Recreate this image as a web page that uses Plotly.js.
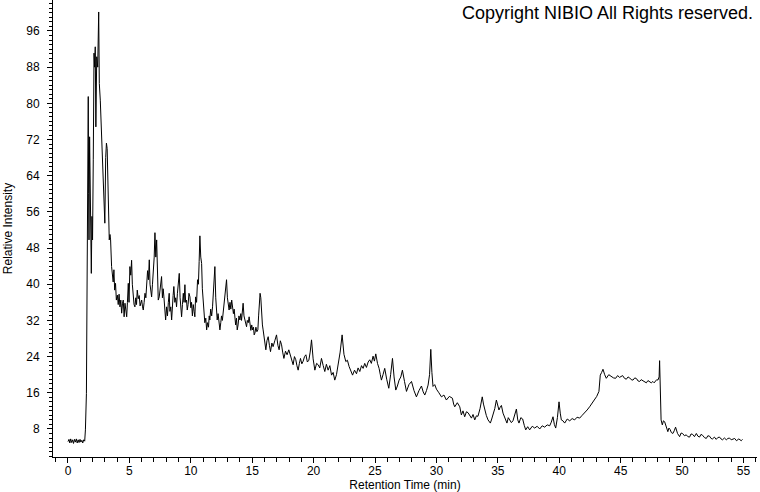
<!DOCTYPE html>
<html>
<head>
<meta charset="utf-8">
<script src="https://cdn.plot.ly/plotly-3.0.1.min.js"></script>
<style>
  html, body { margin: 0; padding: 0; background: #ffffff; }
  #chart { width: 760px; height: 492px; }
</style>
</head>
<body>
<div id="chart"></div>
<script>
// Retention time (min)
const retentionTime = [
  0.00,0.08,0.15,0.22,0.30,0.38,0.45,0.53,0.60,0.68,0.75,0.83,0.90,0.98,1.05,1.13,1.20,1.28,1.36,
  1.42,1.50,1.55,1.60,1.65,1.68,1.71,1.76,1.80,1.85,1.90,1.95,2.00,2.06,2.12,2.17,2.22,2.27,2.34,2.42,
  2.50,2.55,2.63,2.71,2.77,2.82,2.88,2.94,3.00,3.07,3.13,3.19,3.25,3.31,3.36,3.42,3.47,3.55,3.62,3.68,
  3.74,3.80,3.87,3.94,4.02,4.09,4.16,4.23,4.30,4.37,4.44,4.50,4.57,4.64,4.71,4.78,4.84,4.91,4.97,5.04,
  5.11,5.18,5.24,5.31,5.38,5.45,5.52,5.58,5.64,5.72,5.80,5.87,5.94,6.00,6.07,6.13,6.20,6.27,6.34,6.40,
  6.48,6.55,6.62,6.68,6.75,6.81,6.88,6.95,7.02,7.08,7.15,7.22,7.28,7.35,7.43,7.50,7.57,7.62,7.69,7.75,
  7.81,7.88,7.95,8.03,8.10,8.17,8.24,8.30,8.37,8.44,8.50,8.56,8.62,8.70,8.77,8.84,8.91,8.98,9.06,9.13,
  9.19,9.25,9.32,9.39,9.45,9.52,9.58,9.65,9.71,9.78,9.85,9.93,10.00,10.06,10.13,10.20,10.27,10.33,10.39,
  10.47,10.55,10.62,10.68,10.74,10.81,10.88,10.94,11.00,11.07,11.14,11.22,11.29,11.36,11.44,11.50,11.55,
  11.62,11.70,11.77,11.84,11.90,11.96,12.03,12.09,12.15,12.22,12.30,12.37,12.44,12.50,12.57,12.64,12.70,
  12.78,12.85,12.91,12.98,13.05,13.12,13.19,13.26,13.33,13.40,13.47,13.53,13.59,13.65,13.72,13.78,13.85,
  13.92,14.00,14.07,14.13,14.20,14.26,14.33,14.40,14.47,14.54,14.60,14.68,14.75,14.82,14.89,14.96,15.03,
  15.10,15.16,15.22,15.30,15.38,15.46,15.52,15.58,15.64,15.70,15.76,15.83,15.89,16.00,16.11,16.20,16.30,
  16.40,16.49,16.60,16.70,16.84,16.98,17.09,17.19,17.29,17.39,17.48,17.58,17.71,17.84,17.98,18.12,18.22,
  18.33,18.44,18.55,18.64,18.74,18.84,18.93,19.04,19.15,19.26,19.37,19.49,19.61,19.72,19.83,19.96,20.10,
  20.24,20.37,20.50,20.64,20.78,20.91,21.04,21.18,21.32,21.46,21.59,21.72,21.86,21.99,22.16,22.32,22.47,
  22.62,22.75,22.89,23.03,23.17,23.33,23.49,23.62,23.76,23.90,24.03,24.16,24.30,24.44,24.57,24.70,24.84,
  24.95,25.06,25.20,25.33,25.43,25.52,25.65,25.79,25.95,26.12,26.27,26.42,26.55,26.69,26.82,26.96,27.10,
  27.23,27.40,27.56,27.76,27.97,28.17,28.37,28.58,28.78,28.92,29.05,29.19,29.32,29.44,29.54,29.63,29.72,
  29.86,30.00,30.20,30.41,30.61,30.81,31.05,31.30,31.40,31.49,31.70,31.90,32.03,32.16,32.30,32.44,32.57,
  32.71,32.85,32.98,33.12,33.25,33.38,33.55,33.73,33.83,33.93,34.06,34.20,34.39,34.50,34.61,34.75,34.88,
  34.98,35.09,35.19,35.29,35.42,35.56,35.74,35.85,35.96,36.10,36.23,36.37,36.51,36.62,36.72,36.87,37.02,
  37.15,37.27,37.43,37.59,37.80,38.00,38.20,38.41,38.61,38.81,39.02,39.22,39.35,39.49,39.60,39.71,39.85,
  39.98,40.08,40.17,40.30,40.44,40.65,40.85,41.05,41.25,41.45,41.66,41.86,42.07,42.27,42.47,42.68,42.88,
  43.05,43.23,43.34,43.45,43.56,43.70,43.83,44.03,44.24,44.41,44.59,44.75,44.91,45.03,45.16,45.31,45.46,
  45.60,45.73,45.86,46.00,46.15,46.30,46.42,46.54,46.67,46.79,46.94,47.09,47.22,47.36,47.49,47.62,47.73,
  47.84,47.94,48.03,48.13,48.17,48.23,48.29,48.39,48.48,48.58,48.71,48.84,48.93,49.02,49.13,49.25,49.36,
  49.47,49.63,49.80,49.92,50.04,50.19,50.34,50.47,50.61,50.73,50.86,51.01,51.16,51.29,51.42,51.54,51.67,
  51.82,51.97,52.10,52.24,52.36,52.48,52.63,52.78,52.91,53.05,53.17,53.29,53.45,53.60,53.73,53.86,54.00,
  54.13,54.28,54.43,54.62,54.82,54.92
];
// Relative intensity (%)
const relativeIntensity = [
  5.2,5.7,4.9,5.8,5.0,5.6,4.8,5.7,5.1,5.8,4.9,5.6,5.0,5.7,5.1,5.5,4.9,5.6,5.3,
  7.8,15.8,40.0,72.6,81.5,60.0,49.8,72.6,58.6,45.0,42.4,55.0,49.8,67.5,91.1,88.0,92.5,74.8,90.3,88.0,
  100.2,84.4,80.7,74.8,66.8,64.5,61.6,58.6,53.5,68.0,71.2,70.0,62.0,55.7,49.8,51.0,49.8,43.9,42.4,40.5,
  43.2,38.7,40.2,36.5,37.6,35.5,37.8,35.0,36.5,33.6,35.8,36.5,32.8,35.8,34.3,32.8,36.0,40.2,36.0,43.9,
  42.0,45.3,40.0,36.5,35.5,35.0,37.0,35.5,38.7,36.8,37.5,35.2,36.2,36.5,35.0,34.3,36.0,38.0,37.0,39.5,
  43.0,41.0,45.4,40.0,38.5,37.2,40.0,43.0,46.0,51.4,46.0,49.8,43.0,36.5,37.2,38.5,40.0,41.7,37.0,39.0,
  37.2,34.5,32.1,35.0,33.0,36.0,38.0,34.0,35.0,32.1,36.0,37.5,39.5,36.0,37.0,35.0,38.0,40.0,42.4,37.0,
  35.0,32.8,35.5,38.0,36.0,39.9,36.0,36.5,34.3,35.5,38.0,37.2,34.8,36.0,33.0,35.5,34.0,32.8,37.2,
  36.0,41.0,40.0,45.0,50.7,46.0,44.6,39.0,36.5,33.5,31.5,32.5,29.9,31.5,30.5,33.0,32.1,
  34.5,33.0,35.0,38.0,40.0,43.9,37.0,34.0,32.1,33.5,31.0,29.9,31.5,33.0,32.0,33.6,35.5,
  37.0,39.0,41.0,37.0,35.5,34.3,36.0,34.5,36.5,35.0,33.5,34.5,32.1,31.0,32.5,29.9,31.0,
  33.0,32.1,33.5,32.0,34.0,35.8,33.0,32.0,31.0,30.6,32.0,31.5,32.8,31.0,29.8,31.0,29.9,
  30.5,28.8,29.2,30.5,29.5,29.9,33.0,36.0,38.0,37.0,33.0,31.0,29.9,27.0,25.5,27.5,28.4,
  26.5,25.1,27.0,26.2,27.5,28.8,26.5,25.5,27.5,26.6,25.0,23.6,25.2,24.4,25.5,24.0,23.0,
  22.2,24.0,23.3,22.0,21.0,22.5,23.6,22.4,23.0,24.0,24.4,22.8,23.2,25.0,27.7,23.5,21.0,
  22.5,22.2,21.5,23.6,22.0,20.7,22.3,21.0,22.0,19.9,20.5,18.8,20.0,21.8,25.0,28.8,24.5,
  22.9,23.2,21.8,21.0,19.9,21.0,20.2,21.5,20.7,22.0,21.4,22.5,21.6,22.8,23.3,22.5,24.1,
  23.0,24.6,22.5,21.4,20.0,18.8,20.0,21.4,19.0,17.0,20.0,23.6,19.5,16.6,17.5,18.8,19.5,
  21.0,18.5,16.3,17.8,18.5,16.5,15.1,16.5,17.5,16.2,15.5,16.5,17.7,20.0,25.6,20.5,17.4,
  17.8,16.8,16.0,15.1,15.5,14.4,15.2,14.8,13.5,12.9,13.8,12.9,11.1,12.0,10.7,11.8,11.6,
  11.0,10.4,11.2,10.0,10.9,10.8,12.5,15.1,13.5,12.2,11.0,10.0,9.3,10.2,11.1,12.5,14.4,
  13.0,12.2,12.8,13.2,11.5,10.4,9.3,10.5,10.0,9.4,9.8,11.0,12.4,10.0,9.3,10.5,10.2,
  8.8,7.8,8.5,7.8,8.6,8.2,8.6,8.0,8.7,8.4,8.9,8.7,9.5,10.7,9.0,8.2,10.5,
  14.0,11.5,10.0,9.8,9.3,10.2,9.8,10.3,10.0,10.6,10.4,11.0,11.5,12.2,12.9,13.8,14.6,
  15.2,16.3,19.9,20.5,21.2,20.0,19.2,20.0,19.6,19.3,19.2,19.8,19.4,19.7,19.8,19.2,19.0,
  19.5,19.3,18.9,18.8,19.3,19.1,18.6,18.5,18.9,18.7,18.4,18.2,18.7,18.5,18.2,18.5,18.2,
  18.6,18.9,18.8,19.5,23.1,12.2,10.0,8.9,9.8,9.6,8.2,7.4,8.2,7.9,7.2,7.0,7.6,
  8.4,7.0,6.3,7.1,7.0,6.5,6.7,6.3,6.2,6.9,6.8,6.3,7.0,6.4,6.2,6.8,6.6,
  6.1,5.9,6.5,6.4,5.9,5.8,6.2,5.7,6.1,6.2,5.8,5.6,6.0,5.6,5.9,6.0,5.6,
  5.7,5.9,5.4,5.8,5.4,5.7
];

const xTickValues = [0,5,10,15,20,25,30,35,40,45,50,55];
const yTickValues = [8,16,24,32,40,48,56,64,72,80,88,96];

const fontFamily = '"Liberation Sans", Arial, sans-serif';

const trace = {
  x: retentionTime,
  y: relativeIntensity,
  type: 'scatter',
  mode: 'lines',
  line: { color: '#000000', width: 1 },
  hoverinfo: 'x+y'
};

const layout = {
  width: 760,
  height: 492,
  margin: { l: 53, r: 3, t: 0, b: 35, pad: 0 },
  paper_bgcolor: '#ffffff',
  plot_bgcolor: '#ffffff',
  showlegend: false,
  font: { family: fontFamily, size: 12, color: '#000000' },
  xaxis: {
    range: [-1.22, 56.1],
    tickmode: 'array',
    tickvals: xTickValues,
    ticktext: xTickValues.map(String),
    ticks: 'outside',
    ticklen: 5,
    tickwidth: 1,
    tickcolor: '#000000',
    ticklabelstandoff: -2,
    minor: { dtick: 1, tick0: 0, ticks: 'outside', ticklen: 4, tickcolor: '#000000', tickwidth: 1, showgrid: false },
    showline: true,
    linecolor: '#000000',
    linewidth: 1,
    showgrid: false,
    zeroline: false,
    tickfont: { family: fontFamily, size: 12, color: '#000000' },
    title: { text: 'Retention Time (min)', font: { family: fontFamily, size: 12, color: '#000000' }, standoff: 6 }
  },
  yaxis: {
    range: [1.8, 102.85],
    tickmode: 'array',
    tickvals: yTickValues,
    ticktext: yTickValues.map(String),
    ticks: 'outside',
    ticklen: 5,
    tickwidth: 1,
    tickcolor: '#000000',
    ticklabelstandoff: 5,
    minor: { dtick: 1, tick0: 0, ticks: 'outside', ticklen: 3, tickcolor: '#000000', tickwidth: 1, showgrid: false },
    showline: true,
    linecolor: '#000000',
    linewidth: 1,
    showgrid: false,
    zeroline: false,
    tickfont: { family: fontFamily, size: 12, color: '#000000' },
    title: { text: 'Relative Intensity', font: { family: fontFamily, size: 12, color: '#000000' }, standoff: 11 }
  },
  annotations: [{
    xref: 'paper', yref: 'paper',
    x: 0.997, y: 0.997,
    xanchor: 'right', yanchor: 'top',
    text: 'Copyright NIBIO All Rights reserved.',
    showarrow: false,
    font: { family: fontFamily, size: 18, color: '#000000' }
  }]
};

Plotly.newPlot('chart', [trace], layout, { displayModeBar: false, staticPlot: true });
</script>
</body>
</html>
